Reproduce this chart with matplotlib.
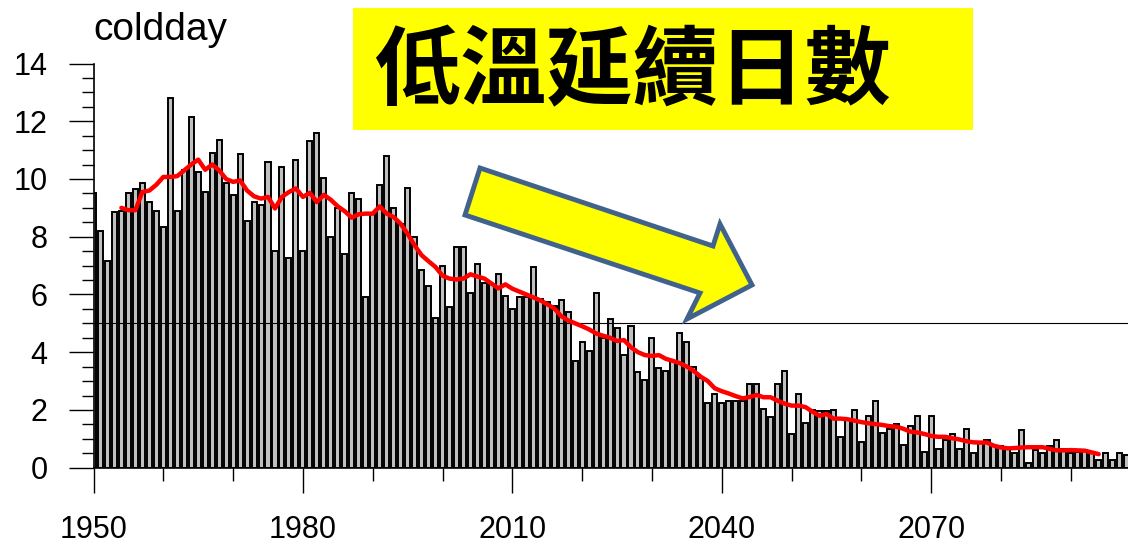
import matplotlib
matplotlib.use("Agg")
import matplotlib.pyplot as plt
import matplotlib.transforms as mtransforms
from matplotlib.patches import Polygon, Rectangle
from matplotlib.ticker import MultipleLocator

# yearly number of cold days
years = list(range(1950, 2099))
coldday = [
    9.5, 8.2, 7.15, 8.85, 8.9, 9.5, 9.65, 9.85, 9.2, 8.9,
    8.35, 12.8, 8.9, 10.3, 12.15, 10.25, 9.55, 10.9, 11.35, 9.85,
    9.45, 10.85, 8.55, 9.2, 9.1, 10.6, 7.5, 10.4, 7.25, 10.65,
    7.5, 11.3, 11.6, 10.05, 8.0, 9.0, 7.4, 9.5, 9.3, 5.9,
    8.8, 9.8, 10.8, 9.0, 8.45, 9.7, 8.0, 6.85, 6.3, 5.2,
    7.0, 5.55, 7.65, 7.65, 6.05, 7.05, 6.4, 6.35, 6.7, 5.95,
    5.5, 5.9, 5.9, 6.95, 5.85, 5.75, 5.6, 5.8, 5.4, 3.7,
    4.35, 4.05, 6.05, 4.5, 5.15, 4.85, 3.9, 4.9, 3.3, 3.05,
    4.5, 3.45, 3.35, 3.7, 4.65, 4.35, 3.5, 3.1, 2.25, 2.55,
    2.25, 2.3, 2.3, 2.3, 2.9, 2.9, 2.05, 1.75, 2.9, 3.35,
    1.15, 2.55, 1.55, 2.0, 1.95, 1.95, 2.0, 1.05, 1.65, 2.0,
    0.9, 1.8, 2.3, 1.2, 1.35, 1.5, 0.8, 1.45, 1.8, 0.55,
    1.8, 0.65, 0.95, 1.15, 0.65, 1.35, 0.5, 0.9, 0.95, 0.75,
    0.75, 0.65, 0.5, 1.3, 0.15, 0.6, 0.5, 0.75, 0.95, 0.65,
    0.5, 0.55, 0.6, 0.55, 0.25, 0.5, 0.25, 0.5, 0.45,
]

# running mean curve
smooth_years = list(range(1954, 2095))
smooth = [
    9.0, 8.92, 8.92, 9.55, 9.6, 9.8, 10.07, 10.07, 10.1, 10.3,
    10.5, 10.67, 10.32, 10.5, 10.3, 10.0, 9.9, 9.95, 9.6, 9.4,
    9.32, 9.38, 8.98, 9.38, 9.55, 9.67, 9.38, 9.52, 9.2, 9.45,
    9.28, 9.05, 8.88, 8.66, 8.78, 8.8, 8.8, 9.05, 8.8, 8.68,
    8.45, 8.1, 7.7, 7.36, 7.15, 6.95, 6.65, 6.55, 6.52, 6.55,
    6.7, 6.62, 6.55, 6.38, 6.21, 6.35, 6.2, 6.1, 6.0, 5.9,
    5.8, 5.66, 5.52, 5.25, 5.1, 5.0, 4.9, 4.79, 4.65, 4.57,
    4.5, 4.39, 4.42, 4.17, 4.0, 3.9, 3.87, 3.9, 3.77, 3.7,
    3.62, 3.5, 3.35, 3.15, 3.0, 2.75, 2.65, 2.57, 2.48, 2.4,
    2.45, 2.52, 2.44, 2.44, 2.32, 2.22, 2.15, 2.15, 2.1, 1.94,
    1.8, 1.86, 1.7, 1.7, 1.68, 1.63, 1.58, 1.54, 1.51, 1.48,
    1.44, 1.42, 1.35, 1.25, 1.22, 1.17, 1.1, 1.07, 1.07, 1.02,
    0.98, 0.92, 0.88, 0.87, 0.87, 0.76, 0.7, 0.67, 0.68, 0.7,
    0.71, 0.71, 0.71, 0.65, 0.6, 0.6, 0.61, 0.6, 0.59, 0.53,
    0.47,
]

threshold = 5
xticks = [1950, 1980, 2010, 2040, 2070]
yticks = [0, 2, 4, 6, 8, 10, 12, 14]

W, H = 1128, 544
fig = plt.figure(figsize=(W / 100, H / 100), dpi=100)
ax = fig.add_axes([93.5 / W, 1 - 467.7 / H, 1 - 93.5 / W, (467.7 - 63.5) / H])

ax.bar(years, coldday, width=0.72, color="#c0c0c0", edgecolor="black",
       linewidth=1.4, zorder=2)
ax.axhline(threshold, color="black", lw=0.8, zorder=3)
ax.plot(smooth_years, smooth, color="red", lw=3.2, zorder=4,
        solid_joinstyle="round", solid_capstyle="round")

ax.set_xlim(1950, 2098.2)
ax.set_ylim(0, 14)
ax.set_xticks(xticks)
ax.set_yticks(yticks)
ax.xaxis.set_minor_locator(MultipleLocator(10))
ax.yaxis.set_minor_locator(MultipleLocator(0.5))
for side in ("top", "right"):
    ax.spines[side].set_visible(False)
for side in ("left", "bottom"):
    ax.spines[side].set_linewidth(1.2)

ax.tick_params(which="major", direction="out", length=18, width=1.0,
               labelsize=22)
ax.tick_params(which="minor", direction="out", length=9, width=1.0)
ax.tick_params(axis="x", which="major", pad=16)
ax.tick_params(axis="y", which="major", pad=15)
for lab in ax.get_xticklabels() + ax.get_yticklabels():
    lab.set_family("Liberation Sans")

# pixel coordinates (origin top-left) -> figure
px = mtransforms.Affine2D().scale(1 / W, -1 / H).translate(0, 1) + fig.transFigure

fig.text(93 / W, 1 - 40 / H, "coldday", fontsize=28, family="Liberation Sans",
         va="baseline", ha="left")

fig.add_artist(Rectangle((353, 8), 620, 122, facecolor="#ffff00",
                         edgecolor="none", transform=px, zorder=5))
fig.text(374 / W, 1 - 73 / H, "低溫延續日數", fontsize=62, fontweight="bold",
         family=["Noto Sans CJK TC", "DejaVu Sans"], va="center", ha="left",
         zorder=6)

arrow = [(480, 168), (713, 246), (720, 224), (752, 285), (687, 319),
         (700, 293), (465, 215)]
fig.add_artist(Polygon(arrow, closed=True, facecolor="#ffff00",
                       edgecolor="#41628d", linewidth=3.5, joinstyle="miter",
                       transform=px, zorder=5))

fig.savefig("out.png", dpi=100)
